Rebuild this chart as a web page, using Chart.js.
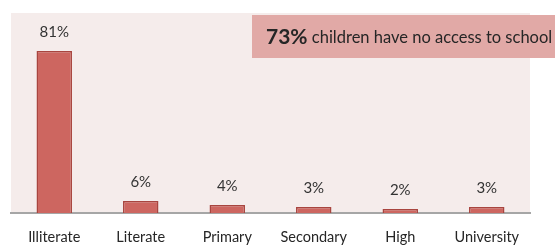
<!DOCTYPE html>
<html>
<head>
<meta charset="utf-8">
<script src="https://cdn.jsdelivr.net/npm/chart.js@4/dist/chart.umd.min.js"></script>
<style>
  html, body { margin: 0; padding: 0; background: #fff; }
  #wrap { width: 555px; height: 246px; }
</style>
</head>
<body>
<div id="wrap"><canvas id="eduChart" width="555" height="246"></canvas></div>
<script>
// Chart data
const levels = ['Illiterate', 'Literate', 'Primary', 'Secondary', 'High', 'University'];
const shares = [81, 6, 4, 3, 2, 3];
const calloutValue = '73%';
const calloutText = ' children have no access to school';

const fontFace = "Lato, 'Open Sans', sans-serif";

// Pale plot background behind the bars
const plotBackground = {
    id: 'plotBackground',
    beforeDraw(chart) {
        const { ctx, chartArea } = chart;
        ctx.save();
        ctx.fillStyle = '#f5eceb';
        ctx.fillRect(chartArea.left, chartArea.top, chartArea.right - chartArea.left, chartArea.bottom - chartArea.top);
        ctx.restore();
    }
};

// Percent labels above each bar
const valueLabels = {
    id: 'valueLabels',
    afterDatasetsDraw(chart) {
        const { ctx } = chart;
        const meta = chart.getDatasetMeta(0);
        ctx.save();
        ctx.font = '15px ' + fontFace;
        ctx.fillStyle = '#333';
        ctx.textAlign = 'center';
        ctx.textBaseline = 'middle';
        meta.data.forEach((bar, i) => {
            ctx.fillText(shares[i] + '%', bar.x, bar.y - 19);
        });
        ctx.restore();
    }
};

// Callout box in the top right
const callout = {
    id: 'callout',
    afterDraw(chart) {
        const { ctx } = chart;
        ctx.save();
        ctx.fillStyle = '#e1a9a6';
        ctx.fillRect(252, 15, 303, 43);
        ctx.textBaseline = 'middle';
        ctx.fillStyle = '#262626';
        ctx.font = 'bold 21px ' + fontFace;
        ctx.fillText(calloutValue, 266, 37);
        const w = ctx.measureText(calloutValue).width;
        ctx.font = '16.5px ' + fontFace;
        ctx.fillText(calloutText, 266 + w, 38);
        ctx.restore();
    }
};

new Chart(document.getElementById('eduChart'), {
    type: 'bar',
    data: {
        labels: levels,
        datasets: [{
            data: shares,
            backgroundColor: '#cd6660',
            borderColor: '#a8453f',
            borderWidth: 1.5,
            categoryPercentage: 1,
            barPercentage: 0.41,
        }]
    },
    options: {
        responsive: false,
        animation: false,
        layout: { padding: { left: 11, right: 25, top: 13, bottom: 0 } },
        plugins: {
            legend: { display: false },
            tooltip: { enabled: false },
        },
        scales: {
            x: {
                grid: { display: false, drawTicks: false },
                border: { color: '#a6a6a6', width: 2 },
                afterFit: (scale) => { scale.height = 33; },
                ticks: {
                    color: '#262626',
                    padding: 16,
                    maxRotation: 0,
                    font: { family: fontFace, size: 14.5 },
                },
            },
            y: {
                display: false,
                min: 0,
                max: 100,
            },
        },
    },
    plugins: [plotBackground, valueLabels, callout],
});
</script>
</body>
</html>
